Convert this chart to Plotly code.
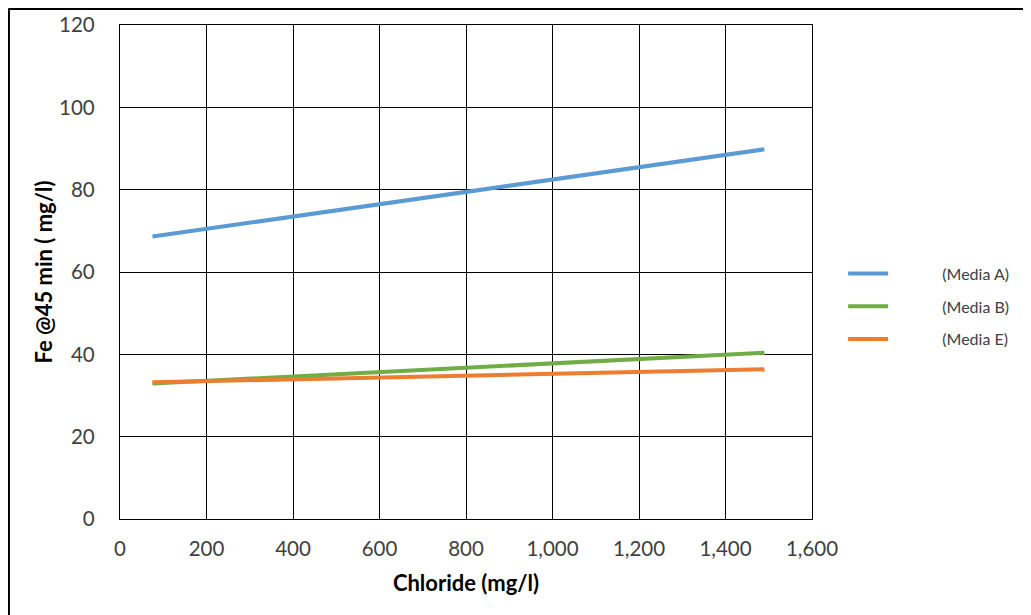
import plotly.graph_objects as go

chloride = [75, 1490]
media_a = [68.6, 89.8]
media_b = [32.9, 40.4]
media_e = [33.2, 36.4]

series = [
    ("(Media A)", media_a, "#5B9BD5"),
    ("(Media B)", media_b, "#70AD47"),
    ("(Media E)", media_e, "#ED7D31"),
]

pad = "\u00a0" * 12

fig = go.Figure()
for i, (name, vals, color) in enumerate(series):
    fig.add_trace(go.Scatter(
        x=chloride, y=vals, mode="lines", name=pad + name,
        legendgroup=f"g{i}",
        line=dict(color=color, width=4),
    ))

tick_font = dict(family="Lato, Open Sans, sans-serif", size=20.5, color="#404040")
title_font = dict(family="Lato, Open Sans, sans-serif", size=22, color="#000000", weight="bold")

W, H = 1023, 607
L, T = 112, 17
PW, PH = 691.7, 494
R = W - L - PW
B = H - T - PH

fig.update_layout(
    width=W, height=H,
    margin=dict(l=L, r=R, t=T, b=B, pad=0, autoexpand=False),
    paper_bgcolor="white", plot_bgcolor="white",
    showlegend=True,
    legend=dict(
        x=1.045, y=0.43, xanchor="left", yanchor="middle",
        font=dict(family="Lato, Open Sans, sans-serif", size=16, color="#404040"),
        tracegroupgap=9, itemwidth=40,
        bgcolor="rgba(0,0,0,0)",
    ),
    xaxis=dict(
        range=[0, 1600], tickvals=[0, 200, 400, 600, 800, 1000, 1200, 1400, 1600],
        tickformat=",d", showgrid=True, gridcolor="#000000", gridwidth=1.3,
        showline=True, linecolor="#000000", linewidth=1.3, mirror=True,
        ticks="", ticklabelstandoff=11, tickfont=tick_font, zeroline=False,
        automargin=False,
        title=dict(text="Chloride (mg/l)", font=title_font, standoff=16),
    ),
    yaxis=dict(
        range=[0, 120], tickvals=[0, 20, 40, 60, 80, 100, 120],
        showgrid=True, gridcolor="#000000", gridwidth=1.3,
        showline=True, linecolor="#000000", linewidth=1.3, mirror=True,
        ticks="", ticklabelstandoff=20, tickfont=tick_font, zeroline=False,
        automargin=False,
        title=dict(text="Fe @45 min ( mg/l)", font=title_font, standoff=0),
    ),
)

# outer frame (left and top edges)
lx = (0.5 - L) / PW
ty = 1 + (T - 0.5) / PH
fig.add_shape(type="line", xref="paper", yref="paper", x0=lx, x1=lx, y0=-1, y1=ty,
              line=dict(color="#000000", width=3))
fig.add_shape(type="line", xref="paper", yref="paper", x0=lx, x1=2, y0=ty, y1=ty,
              line=dict(color="#000000", width=3))

fig.write_html("out.html")
